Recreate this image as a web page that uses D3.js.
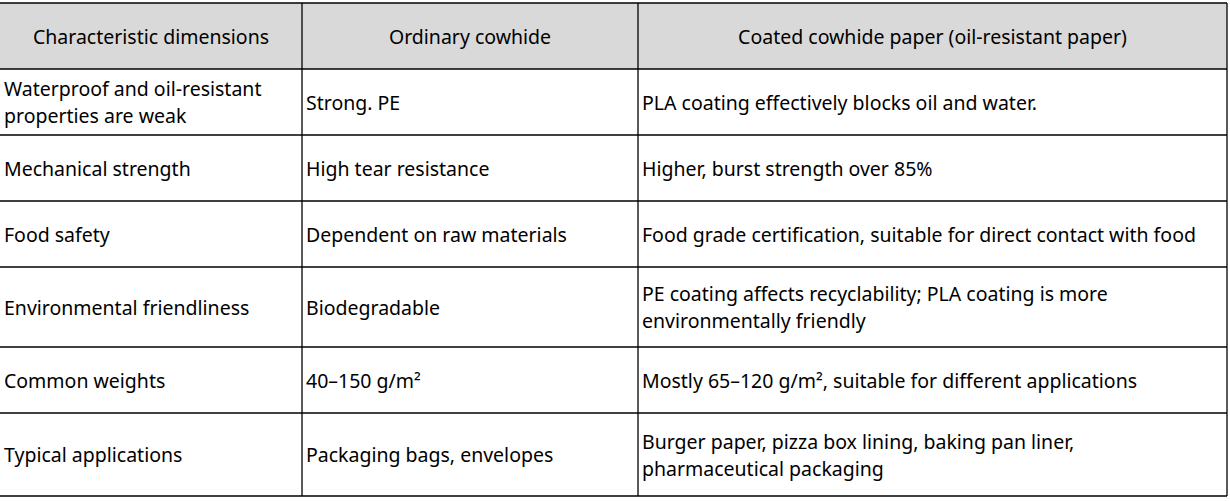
<!DOCTYPE html><html><head><meta charset="utf-8"><script src="https://cdn.jsdelivr.net/npm/d3@7"></script>
<style>body{margin:0;background:#fff}</style></head><body><svg id="c" width="1230" height="501"></svg>
<script>
const headers=["Characteristic dimensions","Ordinary cowhide","Coated cowhide paper (oil-resistant paper)"];
const col1=[["Waterproof and oil-resistant","properties are weak"],["Mechanical strength"],["Food safety"],["Environmental friendliness"],["Common weights"],["Typical applications"]];
const col2=[["Strong. PE"],["High tear resistance"],["Dependent on raw materials"],["Biodegradable"],["40–150 g/m²"],["Packaging bags, envelopes"]];
const col3=[["PLA coating effectively blocks oil and water."],["Higher, burst strength over 85%"],["Food grade certification, suitable for direct contact with food"],["PE coating affects recyclability; PLA coating is more","environmentally friendly"],["Mostly 65–120 g/m², suitable for different applications"],["Burger paper, pizza box lining, baking pan liner,","pharmaceutical packaging"]];
const colEdges=[0,302,638,1227];
const rowEdges=[3,69,135,201,267,347,413,496];
const svg=d3.select("#c");
const font="'Noto Sans','Open Sans',sans-serif";
svg.append("rect").attr("x",0).attr("y",rowEdges[0]).attr("width",colEdges[3]).attr("height",rowEdges[1]-rowEdges[0]).attr("fill","#d9d9d9");
const cols=[col1,col2,col3];
headers.forEach((h,i)=>svg.append("text").attr("x",(colEdges[i]+colEdges[i+1])/2).attr("y",(rowEdges[0]+rowEdges[1])/2).attr("text-anchor","middle").attr("dominant-baseline","central").style("font-family",font).style("font-size","19.5px").attr("fill","#000").text(h));
for(let r=0;r<6;r++){const cy=(rowEdges[r+1]+rowEdges[r+2])/2;
 cols.forEach((c,i)=>{const lines=c[r];const lh=27;
  lines.forEach((t,k)=>svg.append("text").attr("x",colEdges[i]+4).attr("y",cy+(k-(lines.length-1)/2)*lh).attr("dominant-baseline","central").style("font-family",font).style("font-size","19.5px").attr("fill","#000").text(t));});}
const g=svg.append("g").attr("stroke","#000").attr("stroke-width",1.3);
rowEdges.forEach(y=>g.append("line").attr("x1",0).attr("x2",colEdges[3]).attr("y1",y).attr("y2",y));
colEdges.slice(1).forEach(x=>g.append("line").attr("x1",x).attr("x2",x).attr("y1",rowEdges[0]).attr("y2",rowEdges[7]));
</script></body></html>
